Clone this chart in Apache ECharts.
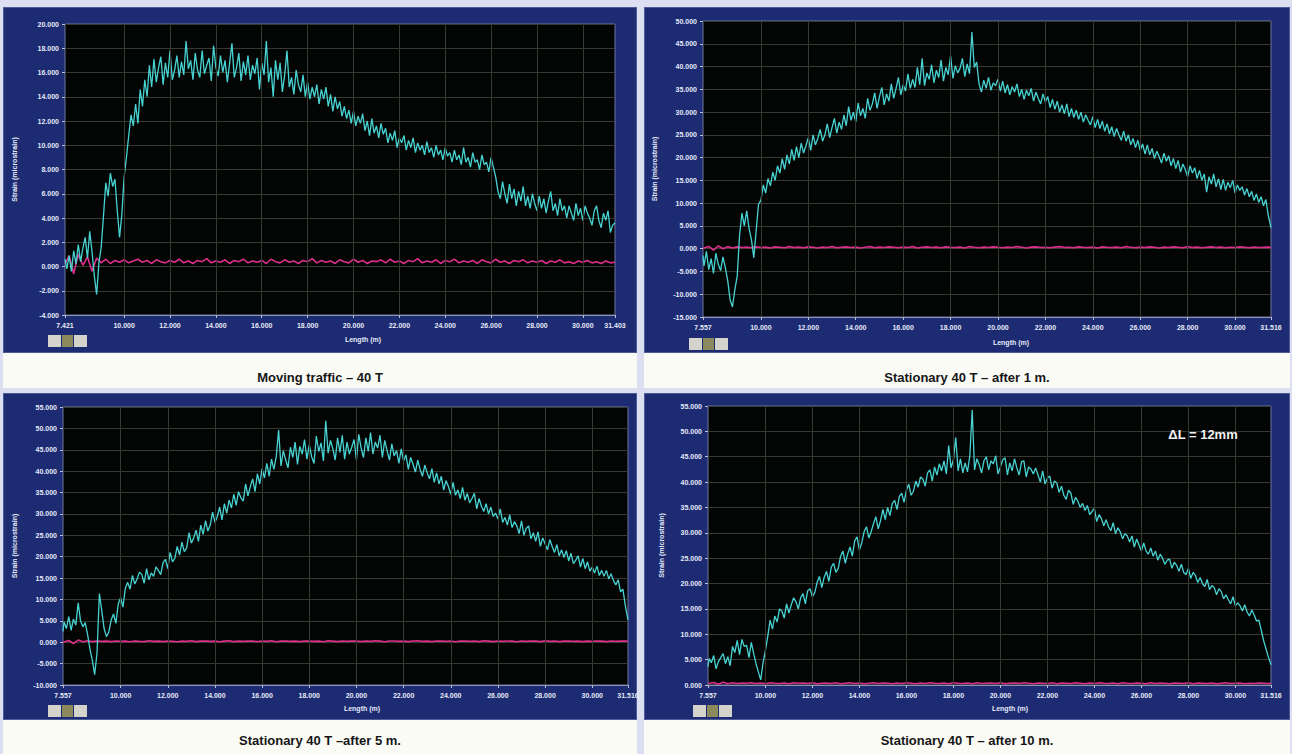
<!DOCTYPE html>
<html><head><meta charset="utf-8">
<script src="https://cdn.jsdelivr.net/npm/echarts@6/dist/echarts.min.js"></script>
<style>
html,body{margin:0;padding:0;}
body{width:1292px;height:754px;background:#dbdff1;position:relative;overflow:hidden;font-family:"Liberation Sans",Arial,sans-serif;}
.frame{position:absolute;background:#1d2b72;border:1px solid #4d5c98;box-sizing:border-box;}
.cap{position:absolute;background:#fbfbf6;text-align:center;font-weight:bold;font-size:13px;color:#161616;box-sizing:border-box;overflow:hidden;}
.icons{position:absolute;display:flex;gap:1px;}
.icons span{display:block;width:13px;height:12px;background:#d4d4cc;}
.icons span.m{background:#8c8a5c;width:11px;}
#chart{position:absolute;left:0;top:0;width:1292px;height:754px;}
</style></head>
<body>
<div class="frame" style="left:3px;top:7px;width:634px;height:346px"></div>
<div class="frame" style="left:644px;top:7px;width:646px;height:346px"></div>
<div class="frame" style="left:3px;top:393px;width:634px;height:327px"></div>
<div class="frame" style="left:644px;top:393px;width:646px;height:327px"></div>
<div class="cap" style="left:3px;top:353px;width:634px;height:35px;line-height:50px">Moving traffic – 40 T</div>
<div class="cap" style="left:644px;top:353px;width:646px;height:35px;line-height:50px">Stationary 40 T – after 1 m.</div>
<div class="cap" style="left:3px;top:720px;width:634px;height:34px;line-height:42px">Stationary 40 T –after 5 m.</div>
<div class="cap" style="left:644px;top:720px;width:646px;height:34px;line-height:42px">Stationary 40 T – after 10 m.</div>
<div class="icons" style="left:48px;top:335px"><span></span><span class="m"></span><span></span></div>
<div class="icons" style="left:689px;top:338px"><span></span><span class="m"></span><span></span></div>
<div class="icons" style="left:48px;top:705px"><span></span><span class="m"></span><span></span></div>
<div class="icons" style="left:693px;top:705px"><span></span><span class="m"></span><span></span></div>
<div id="chart"></div>
<script>
// ---------- sample positions (m) ----------
// dense sampling used by the strain traces
const lenA = [7.421,7.5,7.6,7.7,7.8,7.9,8.0,8.1,8.2,8.3,8.4,8.5,8.6,8.7,8.8,8.9,9.0,9.1,9.2,9.3,9.4,9.5,9.6,9.7,9.8,9.9,10.0,10.1,10.2,10.3,10.4,10.5,10.6,10.7,10.8,10.9,11.0,11.1,11.2,11.3,11.4,11.5,11.6,11.7,11.8,11.9,12.0,12.1,12.2,12.3,12.4,12.5,12.6,12.7,12.8,12.9,13.0,13.1,13.2,13.3,13.4,13.5,13.6,13.7,13.8,13.9,14.0,14.1,14.2,14.3,14.4,14.5,14.6,14.7,14.8,14.9,15.0,15.1,15.2,15.3,15.4,15.5,15.6,15.7,15.8,15.9,16.0,16.1,16.2,16.3,16.4,16.5,16.6,16.7,16.8,16.9,17.0,17.1,17.2,17.3,17.4,17.5,17.6,17.7,17.8,17.9,18.0,18.1,18.2,18.3,18.4,18.5,18.6,18.7,18.8,18.9,19.0,19.1,19.2,19.3,19.4,19.5,19.6,19.7,19.8,19.9,20.0,20.1,20.2,20.3,20.4,20.5,20.6,20.7,20.8,20.9,21.0,21.1,21.2,21.3,21.4,21.5,21.6,21.7,21.8,21.9,22.0,22.1,22.2,22.3,22.4,22.5,22.6,22.7,22.8,22.9,23.0,23.1,23.2,23.3,23.4,23.5,23.6,23.7,23.8,23.9,24.0,24.1,24.2,24.3,24.4,24.5,24.6,24.7,24.8,24.9,25.0,25.1,25.2,25.3,25.4,25.5,25.6,25.7,25.8,25.9,26.0,26.1,26.2,26.3,26.4,26.5,26.6,26.7,26.8,26.9,27.0,27.1,27.2,27.3,27.4,27.5,27.6,27.7,27.8,27.9,28.0,28.1,28.2,28.3,28.4,28.5,28.6,28.7,28.8,28.9,29.0,29.1,29.2,29.3,29.4,29.5,29.6,29.7,29.8,29.9,30.0,30.1,30.2,30.3,30.4,30.5,30.6,30.7,30.8,30.9,31.0,31.1,31.2,31.3,31.403];
const lenB = [7.557,7.6,7.7,7.8,7.9,8.0,8.1,8.2,8.3,8.4,8.5,8.6,8.7,8.8,8.9,9.0,9.1,9.2,9.3,9.4,9.5,9.6,9.7,9.8,9.9,10.0,10.1,10.2,10.3,10.4,10.5,10.6,10.7,10.8,10.9,11.0,11.1,11.2,11.3,11.4,11.5,11.6,11.7,11.8,11.9,12.0,12.1,12.2,12.3,12.4,12.5,12.6,12.7,12.8,12.9,13.0,13.1,13.2,13.3,13.4,13.5,13.6,13.7,13.8,13.9,14.0,14.1,14.2,14.3,14.4,14.5,14.6,14.7,14.8,14.9,15.0,15.1,15.2,15.3,15.4,15.5,15.6,15.7,15.8,15.9,16.0,16.1,16.2,16.3,16.4,16.5,16.6,16.7,16.8,16.9,17.0,17.1,17.2,17.3,17.4,17.5,17.6,17.7,17.8,17.9,18.0,18.1,18.2,18.3,18.4,18.5,18.6,18.7,18.8,18.9,19.0,19.1,19.2,19.3,19.4,19.5,19.6,19.7,19.8,19.9,20.0,20.1,20.2,20.3,20.4,20.5,20.6,20.7,20.8,20.9,21.0,21.1,21.2,21.3,21.4,21.5,21.6,21.7,21.8,21.9,22.0,22.1,22.2,22.3,22.4,22.5,22.6,22.7,22.8,22.9,23.0,23.1,23.2,23.3,23.4,23.5,23.6,23.7,23.8,23.9,24.0,24.1,24.2,24.3,24.4,24.5,24.6,24.7,24.8,24.9,25.0,25.1,25.2,25.3,25.4,25.5,25.6,25.7,25.8,25.9,26.0,26.1,26.2,26.3,26.4,26.5,26.6,26.7,26.8,26.9,27.0,27.1,27.2,27.3,27.4,27.5,27.6,27.7,27.8,27.9,28.0,28.1,28.2,28.3,28.4,28.5,28.6,28.7,28.8,28.9,29.0,29.1,29.2,29.3,29.4,29.5,29.6,29.7,29.8,29.9,30.0,30.1,30.2,30.3,30.4,30.5,30.6,30.7,30.8,30.9,31.0,31.1,31.2,31.3,31.4,31.516];
// coarser sampling used by the reference (magenta) traces
const refLenA = [7.421,7.6,7.8,8.0,8.2,8.4,8.6,8.8,9.0,9.2,9.4,9.6,9.8,10.0,10.2,10.4,10.6,10.8,11.0,11.2,11.4,11.6,11.8,12.0,12.2,12.4,12.6,12.8,13.0,13.2,13.4,13.6,13.8,14.0,14.2,14.4,14.6,14.8,15.0,15.2,15.4,15.6,15.8,16.0,16.2,16.4,16.6,16.8,17.0,17.2,17.4,17.6,17.8,18.0,18.2,18.4,18.6,18.8,19.0,19.2,19.4,19.6,19.8,20.0,20.2,20.4,20.6,20.8,21.0,21.2,21.4,21.6,21.8,22.0,22.2,22.4,22.6,22.8,23.0,23.2,23.4,23.6,23.8,24.0,24.2,24.4,24.6,24.8,25.0,25.2,25.4,25.6,25.8,26.0,26.2,26.4,26.6,26.8,27.0,27.2,27.4,27.6,27.8,28.0,28.2,28.4,28.6,28.8,29.0,29.2,29.4,29.6,29.8,30.0,30.2,30.4,30.6,30.8,31.0,31.2,31.403];
const refLenB = [7.557,7.8,8.0,8.2,8.4,8.6,8.8,9.0,9.2,9.4,9.6,9.8,10.0,10.2,10.4,10.6,10.8,11.0,11.2,11.4,11.6,11.8,12.0,12.2,12.4,12.6,12.8,13.0,13.2,13.4,13.6,13.8,14.0,14.2,14.4,14.6,14.8,15.0,15.2,15.4,15.6,15.8,16.0,16.2,16.4,16.6,16.8,17.0,17.2,17.4,17.6,17.8,18.0,18.2,18.4,18.6,18.8,19.0,19.2,19.4,19.6,19.8,20.0,20.2,20.4,20.6,20.8,21.0,21.2,21.4,21.6,21.8,22.0,22.2,22.4,22.6,22.8,23.0,23.2,23.4,23.6,23.8,24.0,24.2,24.4,24.6,24.8,25.0,25.2,25.4,25.6,25.8,26.0,26.2,26.4,26.6,26.8,27.0,27.2,27.4,27.6,27.8,28.0,28.2,28.4,28.6,28.8,29.0,29.2,29.4,29.6,29.8,30.0,30.2,30.4,30.6,30.8,31.0,31.2,31.4,31.516];

// ---------- strain (microstrain) ----------
// Panel 1: moving traffic
const strainMoving = [600,-200,900,-400,1300,200,1800,400,1500,2400,
700,2900,1200,-800,-2300,300,1600,4200,6900,5800,
7700,6600,7200,4600,2400,4300,7400,9000,10800,12500,
11600,13400,11800,14600,13200,15400,14000,16600,14800,17100,
15200,16400,17300,15000,16800,15600,17800,15400,16200,17400,
15600,16900,15800,18600,16300,17000,15400,17600,16200,15600,
17800,15900,16600,17200,15300,18200,16400,15700,17400,16000,
17000,15200,16800,18400,15600,16400,17600,15300,16900,15800,
17400,15400,16600,15900,17200,14600,16800,15800,18600,15200,
16400,14000,17000,15400,16800,14400,15800,17800,14800,15600,
14200,16200,15000,14400,15800,14000,15200,13800,14800,14000,
15000,13400,14600,13800,14800,13200,14200,12800,14000,13000,
13600,12400,13200,12200,12900,11800,12800,11600,12400,11800,
12600,11200,12000,10800,12200,11000,11600,10600,11800,10900,
11400,10200,11000,10400,11200,9800,10600,10200,10800,9600,
10400,9800,10600,9400,10200,9600,10000,9200,10300,9400,
9800,9000,10000,9200,9600,8800,9800,9100,9400,8600,
9600,8800,9200,8400,9800,8600,9000,8200,9400,8600,
8800,8000,9200,8400,8600,7800,9000,8200,7400,6200,
5600,7000,6000,5200,6800,5600,6400,5000,6200,5400,
6600,5000,5800,4800,6000,5200,4600,5800,4800,5600,
4400,5400,6200,4600,5200,4200,5600,4600,5000,4000,
5000,4400,3800,5200,4200,4800,3800,5000,4400,4000,
3400,4600,5000,3800,3200,4400,3800,4600,2800,3400,
3600];
const refMoving = [200,900,-600,1000,100,800,-400,700,300,600,250,500,350,550,300,450,600,350,500,250,550,400,300,500,350,600,300,450,250,500,400,650,300,450,350,550,250,500,400,600,300,450,350,500,250,600,400,300,550,350,450,250,500,400,650,300,500,350,450,250,550,400,300,600,350,500,250,450,400,550,300,600,350,450,250,500,400,650,300,450,350,550,250,500,400,600,300,450,350,500,250,550,400,300,600,350,450,250,500,400,550,300,450,350,500,250,450,350,550,300,400,250,450,350,500,300,400,250,450,300,350];

// Panel 2: stationary, after 1 m
const strain1m = [-1500,-3800,-600,-4600,-2200,-5400,-1000,-3400,-4800,-1800,
-4200,-7000,-11200,-12800,-9000,-6000,3000,7800,5000,8300,
4400,2000,-2000,4000,9800,10600,14000,12200,15400,13800,
16800,15000,18200,16600,19800,17400,20600,18600,21800,19400,
22400,20000,23200,21000,22600,24400,21600,25000,22800,24200,
26200,23600,25000,27400,24400,26600,28600,25400,27800,26200,
29400,27000,31200,28200,30000,27800,32000,29200,30800,28600,
33000,30400,31800,34200,30800,33400,35400,31600,34000,32400,
36200,33000,35200,37600,33800,36000,34600,38400,35200,37200,
35400,39800,36000,41800,35800,38600,37200,40400,36400,39200,
37600,41400,36800,39800,38200,42400,37400,40200,38600,39600,
41800,37800,40600,38400,47600,39800,41000,36200,34400,37000,
35200,37600,34800,36400,35800,37200,34600,36800,34200,36000,
33800,35600,34400,36200,33400,35000,32800,34800,33600,35200,
32400,34400,33000,31800,34000,32200,33400,31000,32800,30600,
32400,30000,31600,29600,31800,29000,30800,28800,30400,28400,
30000,27800,29400,28200,27200,29000,26600,28400,26400,28000,
25800,27400,25200,26800,24600,26400,25000,23800,25800,23600,
25000,22800,24200,22200,23800,21600,23000,20800,22800,20600,
22000,19800,21400,20200,18800,21000,19200,20400,18200,19800,
17600,19400,16800,18600,17400,15800,18200,16600,17800,15400,
17200,15000,16400,12400,15800,14200,16400,13600,15400,13000,
15200,12800,14600,13400,15000,12200,14000,12800,13600,11800,
13200,11400,12600,10600,12000,10200,11400,9400,10800,7400,
4600];
const ref1m = [100,500,-300,600,0,450,150,400,250,350,200,400,250,350,150,400,300,200,450,250,350,200,400,300,150,350,250,450,200,300,400,250,350,150,300,450,200,350,250,400,300,200,350,250,450,150,300,400,250,350,200,400,300,250,350,150,450,300,200,350,250,400,300,200,350,250,450,300,150,350,400,250,300,200,350,450,250,300,200,400,300,250,350,150,400,300,250,350,200,450,300,200,350,250,400,300,150,350,250,400,300,200,450,250,350,200,300,400,250,350,200,300,250,400,300,200,350,250,300,350,250];

// Panel 3: stationary, after 5 m
const strain5m = [2500,4800,3200,6000,2800,5400,4000,9200,5000,3600,
4600,1800,-1600,-4200,-7600,-2400,11400,7400,3200,1300,
2400,5200,6600,4400,9000,10400,8200,12600,14000,12400,
15600,13600,14800,16400,15800,13800,17200,14600,16200,15400,
17600,16800,15800,18600,19400,17200,21000,18800,19600,22400,
20400,23400,21200,22000,25600,23200,24400,26200,23600,27400,
25200,28400,26000,27400,30400,28000,29400,31600,28600,32400,
30200,33200,31400,34600,32000,35200,33800,33000,37000,34200,
36400,38200,35200,39400,37000,40600,38400,41800,38800,42800,
40400,43400,49600,41200,44800,42600,40800,45600,43200,46800,
41600,45800,44000,47400,42800,46200,43400,41800,48200,44600,
46600,42400,51800,44200,47200,45200,42600,47800,44400,48400,
42800,46800,44000,45600,47400,42600,48600,45400,43200,47800,
44600,49000,44000,46800,45400,48400,43200,47200,44800,42600,
46400,43600,44800,41800,45200,42400,43800,40400,43200,41600,
39800,42600,40400,38800,41400,39600,38200,40600,37400,39600,
37000,38800,35600,37800,36400,34600,37400,34400,35600,33600,
36200,33200,34800,32600,33600,34800,31200,33600,31800,30600,
32400,30000,31600,29400,30200,28800,31200,28000,29200,27400,
29800,26800,28200,27200,25400,28400,25000,26600,27200,24200,
25600,23600,25800,22400,24400,23000,21600,24000,22400,21000,
22800,20200,21600,19800,21400,19000,20800,18400,19200,20200,
17600,19600,17200,18800,16600,17600,16200,17800,15600,16800,
15400,16800,14800,16000,14400,13400,14600,11800,12400,8600,
5200];
const ref5m = [0,400,-300,500,100,350,150,300,200,250,150,300,200,250,100,300,200,150,350,200,250,150,300,200,100,250,200,350,150,250,300,200,250,100,250,350,150,250,200,300,250,150,300,200,350,100,250,300,200,250,150,300,250,200,250,100,350,250,150,300,200,300,250,150,300,200,350,250,100,300,300,200,250,150,300,350,200,250,150,300,250,200,300,100,300,250,200,300,150,350,250,150,300,200,300,250,100,300,200,300,250,150,350,200,300,150,250,300,200,250,150,250,200,300,250,150,300,200,250,300,200];

// Panel 4: stationary, after 10 m
const strain10m = [3600,5200,4400,5800,3200,4600,5400,6200,4200,5600,
3800,7600,6400,8800,6000,9000,7600,7800,5400,8400,
6200,4200,2600,1000,4400,6800,9600,12800,11000,13600,
12400,15000,14600,13200,16000,14200,15800,17200,16400,15000,
17200,18000,16000,18600,19000,17400,18200,20200,21400,19200,
21200,22400,20400,23200,24000,22200,23000,25400,26400,24000,
25800,27200,25400,28400,29200,26600,28000,30200,31200,29000,
30200,31800,33200,30800,32400,34600,32600,35000,33400,35800,
36400,34600,37200,37800,36000,38400,39600,37400,38200,40200,
39000,41000,40600,39200,41800,42400,40200,43000,41400,43600,
42200,44200,41600,47200,42800,44400,48800,42200,44600,41800,
43800,42000,45200,54200,42400,44600,43400,41800,44200,45000,
42400,44200,43600,45200,41600,43000,44400,44800,41400,43800,
42200,44600,42800,41400,44000,44200,41000,43000,42600,41600,
42800,41400,40000,42200,39600,40800,41200,38800,40200,39800,
38000,39200,37400,36600,38400,37800,35600,37000,36200,35000,
35800,34400,35400,33600,34200,34800,32200,33600,32800,31400,
32600,31200,30400,32000,29800,31000,30200,28800,29800,29400,
28200,29400,27200,28800,27600,26400,28000,26400,25800,27000,
25400,26400,24600,25800,25000,23800,24600,24800,23000,24200,
23600,22400,23800,22200,21800,23000,21000,22200,21600,20200,
21200,20000,19400,20800,18800,19600,19200,17800,19000,18400,
17000,17800,16800,16000,17400,15600,16200,15600,14600,15800,
14400,13600,14800,13800,12600,12800,10800,8800,7200,5600,
4000];
const ref10m = [300,500,150,550,250,450,300,400,350,450,300,400,250,450,350,300,400,250,450,350,400,300,450,250,350,400,300,450,250,350,450,300,400,250,350,450,300,400,350,250,400,300,450,350,250,400,300,450,350,300,400,250,450,350,300,400,250,450,300,350,400,300,450,250,350,400,300,450,350,250,400,350,300,450,250,400,350,300,450,350,250,400,300,450,350,300,400,250,450,350,300,400,350,250,450,300,400,350,250,400,350,300,450,250,400,350,300,400,250,350,450,300,350,400,250,350,300,400,350,300,350];

// ---------- tick labels & texts ----------
const xTicksA = [7.421,10,12,14,16,18,20,22,24,26,28,30,31.403];
const xTicksB = [7.557,10,12,14,16,18,20,22,24,26,28,30,31.516];
const xGridLines = [10,12,14,16,18,20,22,24,26,28,30];
const yRanges = [[-4000,20000,2000],[-15000,50000,5000],[-10000,55000,5000],[0,55000,5000]];
const yTitle = 'Strain (microstrain)';
const xTitle = 'Length (m)';
const note = 'ΔL = 12mm';

// ---------- chart ----------
const grids = [
  {left:65, top:24, width:550, height:291},
  {left:703, top:21, width:568, height:296},
  {left:63, top:407, width:565, height:278},
  {left:708, top:406, width:563, height:279}
];
const panels = [
  {x:lenA, s:strainMoving, rx:refLenA, r:refMoving, t:xTicksA},
  {x:lenB, s:strain1m, rx:refLenB, r:ref1m, t:xTicksB},
  {x:lenB, s:strain5m, rx:refLenB, r:ref5m, t:xTicksB},
  {x:lenB, s:strain10m, rx:refLenB, r:ref10m, t:xTicksB}
];
const labelStyle = {color:'#e6eaf8', fontSize:7, fontWeight:'bold', fontFamily:'Liberation Sans'};
const gridColor = '#363a30';
const titleFont = 'bold 7px "Liberation Sans"';
function txt(x, y, text, font, fill) {
  return {type:'text', x:x, y:y, z:100, zlevel:1,
    style:{text:text, align:'center', verticalAlign:'middle', textAlign:'center', textVerticalAlign:'middle', fill:fill, font:font}};
}
const option = {
  animation:false,
  grid: grids.map(g => Object.assign({show:true, backgroundColor:'#030505', borderColor:'#6e789e', borderWidth:1}, g)),
  xAxis: panels.map((p,i) => ({
    type:'value', gridIndex:i, min:p.t[0], max:p.t[p.t.length-1],
    axisLine:{show:true, onZero:false, lineStyle:{color:'#8a92b4'}},
    axisTick:{show:true, length:3, customValues:p.t, lineStyle:{color:'#b8c0dc'}},
    axisLabel:Object.assign({customValues:p.t, margin:7, formatter:v => v.toFixed(3)}, labelStyle),
    splitLine:{show:false}
  })),
  yAxis: yRanges.map((r,i) => ({
    type:'value', gridIndex:i, min:r[0], max:r[1], interval:r[2],
    name:yTitle, nameLocation:'middle', nameGap:[47,45,45,43][i], nameRotate:90,
    nameTextStyle:{color:'#e6eaf8', fontSize:7, fontWeight:'bold'},
    axisLine:{show:false},
    axisTick:{show:true, length:3, lineStyle:{color:'#b8c0dc'}},
    axisLabel:Object.assign({margin:6, formatter:v => (v/1000).toFixed(3)}, labelStyle),
    splitLine:{show:true, lineStyle:{color:gridColor, width:1}}
  })),
  series: [],
  graphic: [
    txt(363, 339, xTitle, titleFont, '#e6eaf8'),
    txt(1011, 342, xTitle, titleFont, '#e6eaf8'),
    txt(362, 708, xTitle, titleFont, '#e6eaf8'),
    txt(1010, 708, xTitle, titleFont, '#e6eaf8'),
    txt(1203, 434, note, 'bold 13px "Liberation Sans"', '#f2f2f2')
  ]
};
panels.forEach((p,i) => {
  option.series.push({
    type:'line', xAxisIndex:i, yAxisIndex:i, z:2, showSymbol:false, silent:true,
    data:p.rx.map((x,k) => [x, p.r[k]]),
    lineStyle:{color:'#dc2f8c', width:1.6},
    markLine:{silent:true, symbol:['none','none'], label:{show:false},
      lineStyle:{color:gridColor, width:1, type:'solid'},
      data:xGridLines.map(v => ({xAxis:v}))}
  });
  option.series.push({
    type:'line', xAxisIndex:i, yAxisIndex:i, z:3, showSymbol:false, silent:true,
    data:p.x.map((x,k) => [x, p.s[k]]),
    lineStyle:{color:'#48d2d2', width:1.3}
  });
});
const chart = echarts.init(document.getElementById('chart'), null, {renderer:'svg'});
chart.setOption(option);
</script>
</body></html>
